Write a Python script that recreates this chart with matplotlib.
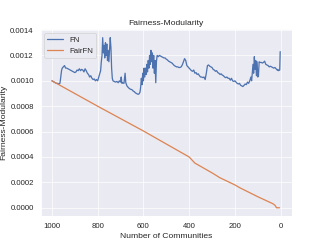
import matplotlib
matplotlib.use("Agg")
import matplotlib.pyplot as plt
import seaborn as sns
import numpy as np

fn_x = [1000, 995, 990, 985, 980, 975, 970, 965, 962, 958, 955, 950, 945, 940, 935, 930, 925, 920, 915, 910,
        905, 900, 895, 890, 885, 880, 875, 870, 865, 860, 855, 850, 845, 840, 835, 830, 825, 820, 815, 810,
        805, 800, 795, 790, 787, 784, 781, 778, 775, 772, 769, 766, 763, 760, 757, 754, 751, 748, 745, 742,
        739, 736, 733, 728, 722, 716, 710, 705, 700, 697, 694, 690, 685, 680, 677, 672, 665, 658, 650, 645,
        640, 635, 630, 625, 620, 615, 612, 609, 606, 603, 600, 597, 594, 591, 588, 585, 582, 579, 576, 573,
        570, 567, 564, 561, 558, 555, 552, 549, 546, 543, 540, 535, 530, 525, 520, 515, 510, 505, 500, 495,
        490, 485, 480, 475, 470, 465, 460, 455, 450, 445, 440, 435, 430, 425, 420, 415, 410, 405, 400, 395,
        390, 385, 380, 375, 370, 365, 360, 355, 350, 345, 340, 335, 330, 325, 320, 315, 310, 305, 300, 295,
        290, 285, 280, 275, 270, 265, 260, 255, 250, 245, 240, 235, 230, 225, 220, 215, 210, 205, 200, 195,
        190, 185, 180, 175, 170, 165, 160, 155, 150, 145, 140, 135, 130, 127, 124, 121, 118, 115, 112, 109,
        106, 103, 100, 97, 94, 91, 85, 80, 75, 70, 65, 60, 55, 50, 45, 40, 35, 30, 25, 20,
        15, 12, 10, 4, 2]
fn_y = [10.0, 9.95, 9.9, 9.85, 9.8, 9.8, 9.75, 9.8, 10.2, 10.8, 11.0, 11.1, 11.2, 11.0, 11.0, 10.95, 10.9, 10.85, 10.8, 10.75,
        10.7, 10.65, 10.7, 10.85, 10.8, 10.95, 10.8, 10.9, 10.85, 10.7, 10.95, 10.8, 10.6, 10.5, 10.3, 10.4, 10.2, 10.1, 10.15, 10.0,
        10.1, 10.0, 10.3, 10.6, 10.8, 11.5, 12.0, 13.4, 12.2, 12.8, 11.8, 13.0, 12.0, 12.9, 11.6, 12.4, 11.5, 12.5, 13.4, 12.6,
        11.0, 10.2, 10.0, 9.95, 9.9, 9.95, 9.85, 10.0, 9.9, 10.3, 9.8, 9.85, 9.8, 10.6, 9.85, 9.6, 9.45, 9.35, 9.3, 9.2,
        9.15, 9.05, 9.0, 8.95, 8.95, 9.1, 9.5, 10.2, 9.7, 10.6, 10.0, 11.0, 10.3, 11.0, 10.5, 11.3, 10.7, 11.6, 11.0, 12.0,
        11.3, 12.4, 11.5, 12.2, 11.0, 12.0, 10.6, 11.6, 9.85, 11.5, 12.0, 11.9, 12.0, 11.95, 11.9, 11.85, 11.8, 11.8, 11.7, 11.65,
        11.55, 11.5, 11.45, 11.4, 11.3, 11.2, 11.15, 11.1, 11.1, 11.05, 11.05, 11.1, 11.25, 11.5, 11.75, 11.6, 11.2, 11.1, 11.0, 10.9,
        10.8, 10.75, 10.85, 10.6, 10.65, 10.5, 10.55, 10.4, 10.3, 10.3, 10.25, 10.3, 10.1, 10.6, 11.2, 11.25, 11.15, 11.1, 11.05, 10.9,
        10.85, 10.75, 10.8, 10.65, 10.6, 10.5, 10.55, 10.45, 10.4, 10.3, 10.25, 10.3, 10.2, 10.2, 10.05, 10.2, 10.0, 9.95, 10.0, 9.9,
        9.8, 9.75, 9.8, 9.65, 9.6, 9.55, 9.65, 9.75, 9.7, 9.9, 9.8, 10.0, 10.3, 10.0, 10.6, 11.3, 10.6, 11.9, 10.9, 11.6,
        10.4, 11.5, 10.3, 10.4, 11.5, 11.45, 11.45, 11.4, 11.45, 11.55, 11.3, 11.25, 11.2, 11.1, 11.15, 11.1, 11.05, 11.0, 11.05, 10.95,
        10.85, 10.9, 10.8, 10.85, 12.3]

fair_x = [1000, 800, 600, 400, 375, 300, 266, 200, 179, 100, 34, 25, 18, 5]
fair_y = [10.0, 8.0, 6.05, 4.0, 3.52, 2.75, 2.37, 1.8, 1.58, 0.87, 0.32, 0.2, 0.0, 0.0]

sns.set_theme(style="darkgrid")
plt.rcParams['font.family'] = ['Liberation Sans', 'DejaVu Sans']

fig, ax = plt.subplots(figsize=(6.4, 4.8), dpi=50.625)
ax.plot(fn_x, np.array(fn_y) * 1e-4, label="FN", linewidth=1.8)
ax.plot(fair_x, np.array(fair_y) * 1e-4, label="FairFN", linewidth=1.8)
ax.invert_xaxis()
ax.set_title("Fairness-Modularity")
ax.set_xlabel("Number of Communities")
ax.set_ylabel("Fairness-Modularity")
ax.legend(loc="upper left")
fig.savefig("out.png", dpi=50.625)
